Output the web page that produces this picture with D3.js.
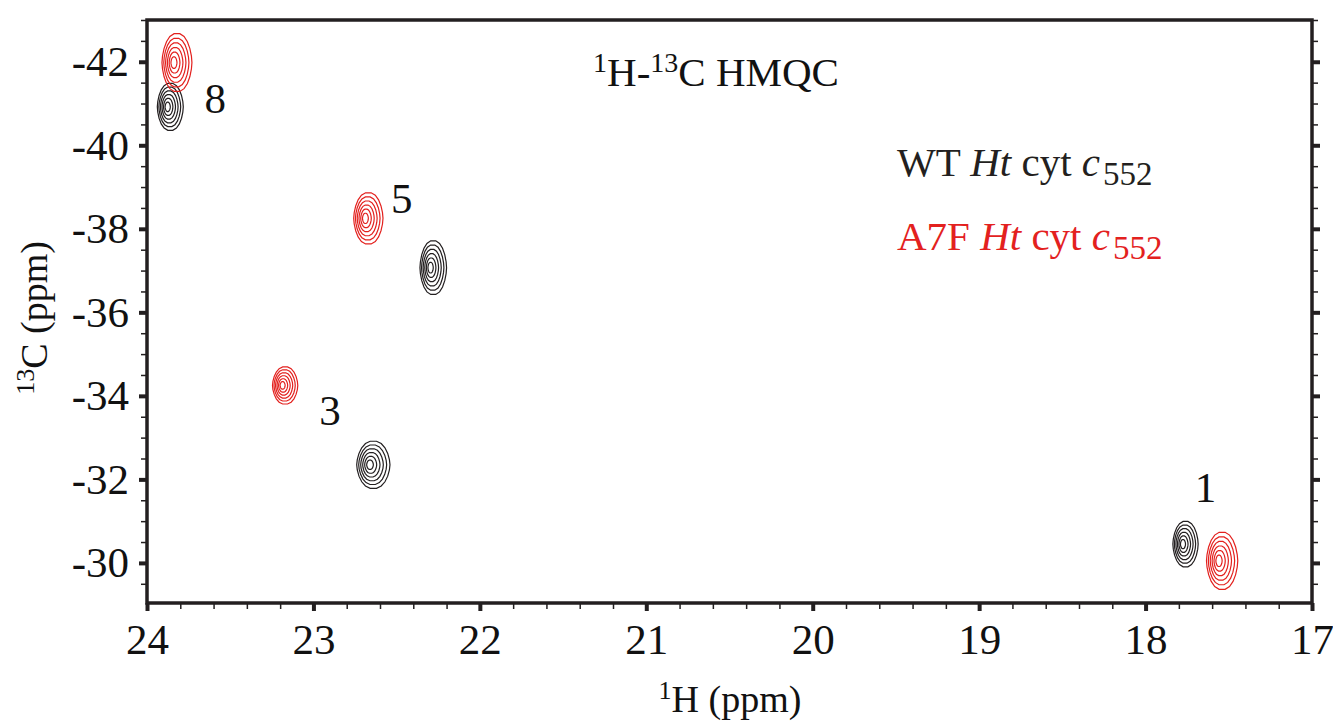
<!DOCTYPE html>
<html>
<head>
<meta charset="utf-8">
<script src="https://cdn.jsdelivr.net/npm/d3@7"></script>
<style>
  body { margin: 0; background: #fff; }
  text { font-family: "Liberation Serif", "Times New Roman", serif; fill: #111; }
</style>
</head>
<body>
<svg width="1333" height="724"></svg>
<script>
// peak data (ppm)
var peakLabels = ["8", "5", "3", "1"];
var wtH  = [23.86, 22.28, 22.64, 17.76];
var wtC  = [-40.92, -37.07, -32.35, -30.45];
var wtDH = [0.078, 0.08, 0.1, 0.076];
var wtDC = [0.57, 0.65, 0.57, 0.55];
var a7fH  = [23.82, 22.67, 23.17, 17.54];
var a7fC  = [-41.98, -38.25, -34.25, -30.05];
var a7fDH = [0.09, 0.088, 0.076, 0.094];
var a7fDC = [0.7, 0.62, 0.45, 0.69];
var labelH = [23.59, 22.47, 22.90, 17.64];
var labelC = [-40.77, -38.38, -33.30, -31.45];
var contourLevels = [1, 0.84, 0.68, 0.52, 0.36, 0.2];

var xTicks = [24, 23, 22, 21, 20, 19, 18, 17];
var yTicks = [-42, -40, -38, -36, -34, -32, -30];

var svg = d3.select("svg"),
    plotL = 147, plotR = 1312, plotT = 20, plotB = 603;

var x = d3.scaleLinear().domain([24, 17]).range([plotL, plotR]);
var y = d3.scaleLinear().domain([-43, -29.04]).range([plotT, plotB]);

var red = "#e3211e", black = "#231f20";

// minor ticks
var xMinor = d3.range(24, 16.99, -0.2).map(function(d) { return +d.toFixed(1); });
var yMinor = d3.range(-43, -29, 0.5);

function thin(g) {
    g.select(".domain").remove();
    g.selectAll("line").attr("stroke", black).attr("stroke-width", 1.5);
}

svg.append("g")
    .attr("transform", "translate(0," + plotB + ")")
    .call(d3.axisBottom(x).tickValues(xMinor).tickSize(6).tickFormat(""))
    .call(thin);
svg.append("g")
    .attr("transform", "translate(" + plotL + ",0)")
    .call(d3.axisLeft(y).tickValues(yMinor).tickSize(6).tickFormat(""))
    .call(thin);
svg.append("g")
    .attr("transform", "translate(" + plotR + ",0)")
    .call(d3.axisRight(y).tickValues(yMinor).tickSize(6).tickFormat(""))
    .call(thin);

// major ticks + labels
var xAxis = svg.append("g")
    .attr("transform", "translate(0," + plotB + ")")
    .call(d3.axisBottom(x).tickValues(xTicks).tickSize(8).tickPadding(12).tickFormat(function(d) { return String(d); }));
xAxis.select(".domain").remove();
xAxis.selectAll("line").attr("stroke", black).attr("stroke-width", 4);
xAxis.selectAll("text").attr("font-size", 43).attr("fill", "#111")
    .attr("font-family", "Liberation Serif, serif");

var yAxis = svg.append("g")
    .attr("transform", "translate(" + plotL + ",0)")
    .call(d3.axisLeft(y).tickValues(yTicks).tickSize(8).tickPadding(10).tickFormat(function(d) { return String(d); }));
yAxis.select(".domain").remove();
yAxis.selectAll("line").attr("stroke", black).attr("stroke-width", 4);
yAxis.selectAll("text").attr("font-size", 43).attr("fill", "#111")
    .attr("font-family", "Liberation Serif, serif");

var yAxisR = svg.append("g")
    .attr("transform", "translate(" + plotR + ",0)")
    .call(d3.axisRight(y).tickValues(yTicks).tickSize(8).tickFormat(""));
yAxisR.select(".domain").remove();
yAxisR.selectAll("line").attr("stroke", black).attr("stroke-width", 4);

// frame
svg.append("rect")
    .attr("x", plotL).attr("y", plotT)
    .attr("width", plotR - plotL).attr("height", plotB - plotT)
    .attr("fill", "none").attr("stroke", black).attr("stroke-width", 3.5);

// contour rings around each peak
function ring(h, c, dh, dc, f) {
    var n = 22;
    var pts = d3.range(0, n).map(function(i) {
        var t = i / n * 2 * Math.PI;
        var ct = Math.cos(t), st = Math.sin(t);
        // slightly pointed ends along the 13C axis
        var ex = Math.sign(ct) * Math.pow(Math.abs(ct), 0.85);
        var ey = Math.sign(st) * Math.pow(Math.abs(st), 1.2);
        // inner rings drift a little towards the low-field side
        var shift = (1 - f) * dh * 0.25;
        return [x(h + shift + dh * f * ex), y(c + dc * f * ey)];
    });
    return d3.line().curve(d3.curveLinearClosed)(pts);
}

function drawPeaks(H, C, DH, DC, color) {
    var g = svg.append("g");
    H.forEach(function(h, i) {
        contourLevels.forEach(function(f) {
            g.append("path")
                .attr("d", ring(h, C[i], DH[i], DC[i], f))
                .attr("fill", "none")
                .attr("stroke", color)
                .attr("stroke-width", 1.2);
        });
    });
}
drawPeaks(wtH, wtC, wtDH, wtDC, black);
drawPeaks(a7fH, a7fC, a7fDH, a7fDC, red);

// peak labels
svg.append("g").selectAll("text")
    .data(peakLabels)
    .enter().append("text")
    .attr("x", function(d, i) { return x(labelH[i]); })
    .attr("y", function(d, i) { return y(labelC[i]); })
    .attr("text-anchor", "middle")
    .attr("font-size", 43)
    .text(function(d) { return d; });

// title
var title = svg.append("text").attr("x", 716).attr("y", 86)
    .attr("text-anchor", "middle").attr("font-size", 41);
title.append("tspan").attr("font-size", 28).attr("dy", -14).text("1");
title.append("tspan").attr("dy", 14).text("H-");
title.append("tspan").attr("font-size", 28).attr("dy", -14).text("13");
title.append("tspan").attr("dy", 14).text("C HMQC");

// legend
function legendLine(prefix, yPos, color) {
    var t = svg.append("text").attr("x", 897).attr("y", yPos)
        .attr("font-size", 41).style("fill", color);
    t.append("tspan").text(prefix + " ");
    t.append("tspan").attr("font-style", "italic").text("Ht");
    t.append("tspan").text(" cyt ");
    t.append("tspan").attr("font-style", "italic").text("c");
    t.append("tspan").attr("font-size", 33).attr("dy", 9).attr("dx", 3).text("552");
}
legendLine("WT", 176, black);
legendLine("A7F", 250, red);

// axis titles
var xt = svg.append("text").attr("x", 730).attr("y", 712)
    .attr("text-anchor", "middle").attr("font-size", 38);
xt.append("tspan").attr("font-size", 26).attr("dy", -13).text("1");
xt.append("tspan").attr("dy", 13).text("H (ppm)");

var yt = svg.append("text")
    .attr("transform", "translate(47,318) rotate(-90)")
    .attr("text-anchor", "middle").attr("font-size", 38);
yt.append("tspan").attr("font-size", 26).attr("dy", -13).text("13");
yt.append("tspan").attr("dy", 13).text("C (ppm)");
</script>
</body>
</html>
